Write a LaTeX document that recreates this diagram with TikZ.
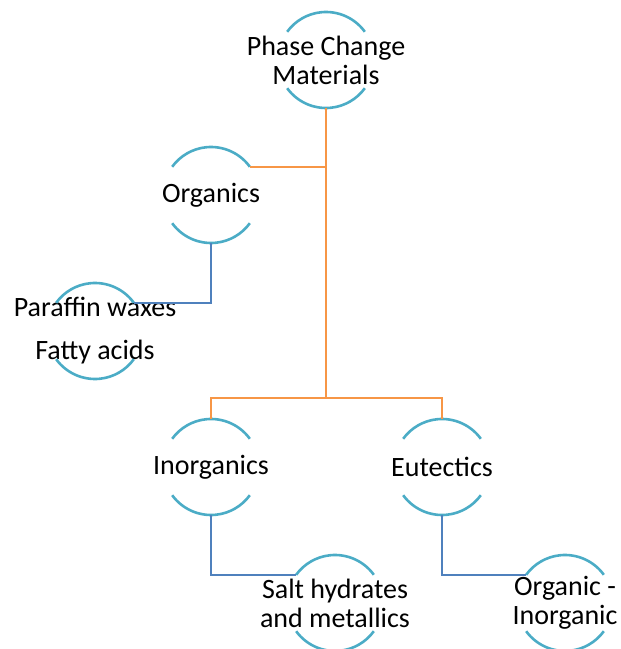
\documentclass[tikz,border=0pt]{standalone}
\usepackage{fontspec}
\setmainfont{Carlito}
\definecolor{ringblue}{HTML}{4BACC6}
\definecolor{linkorange}{HTML}{F79646}
\definecolor{linkblue}{HTML}{4F81BD}

\begin{document}
\begin{tikzpicture}[x=1pt,y=1pt,
  ring node/.style={circle,minimum size=96pt,inner sep=0pt,outer sep=0pt},
  ring text/.style={align=center,font=\fontsize{28}{29}\selectfont},
  ring arc/.style={ringblue,line width=2.6pt},
  top link/.style={linkorange,line width=2.4pt},
  sub link/.style={linkblue,line width=2.4pt}]
  \useasboundingbox (0,0) rectangle (621,649);

  \node[ring node,label={[ring text]center:Phase Change\\Materials}] (pcm) at (326,589) {};
  \node[ring node,label={[ring text]center:Organics}] (org) at (211,454) {};
  \node[ring node,label={[ring text]center:Paraffin waxes\\[14pt]Fatty acids}] (par) at (95,318) {};
  \node[ring node,label={[ring text]center:Inorganics}] (inorg) at (211,182) {};
  \node[ring node,label={[ring text]center:Eutectics}] (eut) at (442,182) {};
  \node[ring node,label={[ring text]center:Salt hydrates\\and metallics}] (salt) at (335,46) {};
  \node[ring node,label={[ring text]center:Organic -\\Inorganic}] (oi) at (565,46) {};
  \coordinate (split) at (326,251);

  % open rings
  \foreach \n in {pcm,org,par,inorg,eut,salt,oi}{
    \draw[ring arc] (\n.36) arc[start angle=36,end angle=144,radius=48];
    \draw[ring arc] (\n.216) arc[start angle=216,end angle=324,radius=48];
  }

  \draw[top link] (pcm.south) -- (split);
  \draw[top link] (pcm.south) |- (org.36);
  \draw[top link] (split) -| (inorg.north);
  \draw[top link] (split) -| (eut.north);
  \draw[sub link] (org.south) |- (par.36);
  \draw[sub link] (inorg.south) |- (salt.144);
  \draw[sub link] (eut.south) |- (oi.144);
\end{tikzpicture}
\end{document}
